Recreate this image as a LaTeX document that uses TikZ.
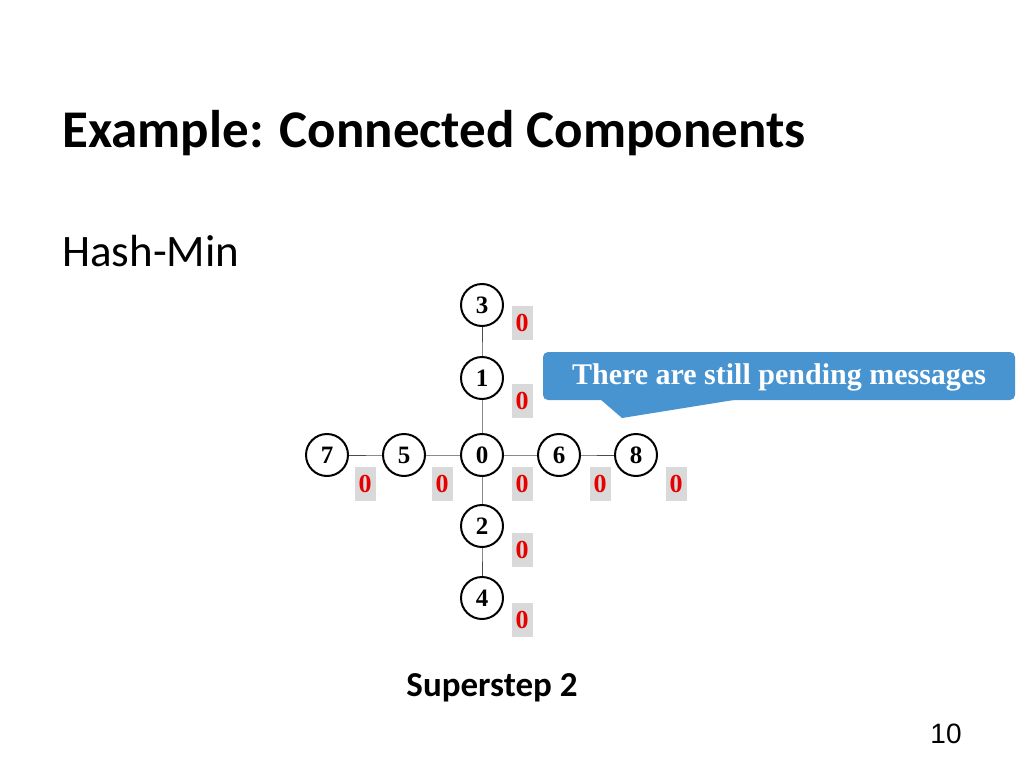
\documentclass[tikz,border=0pt]{standalone}
\usepackage{fontspec}
\setmainfont{Liberation Serif}
\newfontfamily\calib{Carlito}
\newfontfamily\arialf{Liberation Sans}
\definecolor{callblue}{RGB}{72,148,208}
\definecolor{valred}{RGB}{230,0,0}
\definecolor{valgray}{RGB}{217,217,217}
\tikzset{
 vert/.style={circle,draw,line width=2pt,minimum size=42pt,inner sep=0pt,font=\fontsize{25}{27}\selectfont\bfseries,fill=white},
 val/.style={fill=valgray,minimum width=21pt,minimum height=34pt,inner sep=0pt,text=valred,font=\fontsize{26}{28}\selectfont\bfseries},
 edge/.style={draw=black!70,line width=0.8pt}
}
\begin{document}
\begin{tikzpicture}[x=1pt,y=-1pt]
\useasboundingbox (0,0) rectangle (1024,768);
\node[anchor=base west,inner sep=0pt,font=\calib\fontsize{53}{58}\selectfont\bfseries] (title) at (62,147) {Example: Connected Components};
\node[anchor=base west,inner sep=0pt,font=\calib\fontsize{45}{50}\selectfont] (hm) at (62,266) {Hash-Min};
\foreach \n/\x/\y in {3/482/305,1/482/378,0/482/455,2/482/526,4/482/598,7/327/455,5/404/455,6/559/455,8/636/455}
  \coordinate (c\n) at (\x,\y);
\draw[edge] (c3)--(c1)--(c0)--(c2)--(c4);
\draw[edge] (c7)--(c5)--(c0)--(c6)--(c8);
\foreach \n in {3,1,0,2,4,7,5,6,8} \node[vert] (v\n) at (c\n) {\n};
\foreach \n/\x/\y in {a/522/323,b/522/401,c/522/484,d/522/550,e/522/620,f/365/484,g/442/484,h/600/484,i/676/484}
  \node[val] (val\n) at (\x,\y) {0};
\fill[callblue,rounded corners=5pt] (543,352) rectangle (1015,400);
\fill[callblue] (600,399) -- (622,418) -- (740,399) -- cycle;
\node[text=white,font=\fontsize{30}{33}\selectfont\bfseries] (call) at (779,377) {There are still pending messages};
\node[font=\calib\fontsize{35}{38}\selectfont\bfseries] (ss) at (492,688) {Superstep 2};
\node[font=\arialf\fontsize{28}{30}\selectfont] (pg) at (946,734) {10};
\end{tikzpicture}
\end{document}
